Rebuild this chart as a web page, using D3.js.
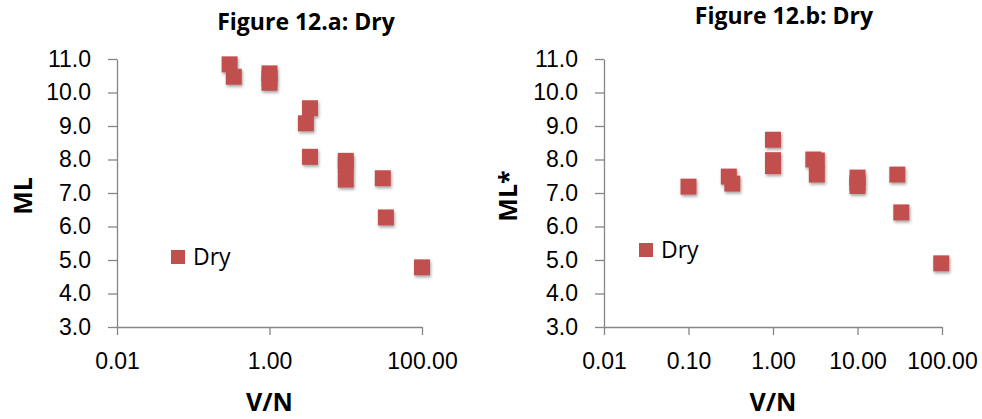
<!DOCTYPE html>
<html>
<head>
<meta charset="utf-8">
<script src="https://cdn.jsdelivr.net/npm/d3@7"></script>
<style>
  body { margin: 0; background: #fff; }
  svg { display: block; font-family: "Open Sans", sans-serif; }
  .axis path, .axis line { stroke: #868686; stroke-width: 1.3px; }
  .axis text { font-size: 23px; fill: #000; }
</style>
</head>
<body>
<svg id="chart" width="982" height="419"></svg>
<script>
// Figure 12.a data (V/N vs ML)
const leftX = [0.30, 0.34, 1.0, 1.0, 1.0, 3.4, 3.0, 3.4, 10, 10, 10, 30.6, 33.6, 100];
const leftY = [10.84, 10.47, 10.57, 10.42, 10.29, 9.53, 9.08, 8.08, 7.96, 7.85, 7.40, 7.44, 6.27, 4.78];
const leftTicks = [0.01, 1, 100];

// Figure 12.b data (V/N vs ML*)
const rightX = [0.10, 0.30, 0.33, 1.0, 1.0, 1.0, 3.0, 3.3, 3.3, 10, 10, 10, 29.6, 33, 98];
const rightY = [7.19, 7.49, 7.28, 8.59, 7.98, 7.80, 8.00, 7.97, 7.55, 7.46, 7.30, 7.21, 7.55, 6.42, 4.90];
const rightTicks = [0.01, 0.1, 1, 10, 100];

const yTicks = [3, 4, 5, 6, 7, 8, 9, 10, 11];
const seriesName = "Dry";
const markerColor = "#C0504D";

const svg = d3.select("#chart");

// soft shadow like the excel markers
const defs = svg.append("defs");
const f = defs.append("filter").attr("id", "shadow")
  .attr("x", "-50%").attr("y", "-50%").attr("width", "200%").attr("height", "200%");
f.append("feDropShadow")
  .attr("dx", 1).attr("dy", 2).attr("stdDeviation", 1.5)
  .attr("flood-color", "#000").attr("flood-opacity", 0.35);

function drawPanel(opt) {
  const g = svg.append("g");

  const x = d3.scaleLog().domain([0.01, 100]).range([opt.left, opt.right]);
  const y = d3.scaleLinear().domain([3, 11]).range([327, 59]);

  g.append("g")
    .attr("class", "axis")
    .attr("transform", `translate(0,${y(3)})`)
    .call(d3.axisBottom(x).tickValues(opt.ticks).tickFormat(d3.format(".2f"))
      .tickSizeInner(8).tickSizeOuter(0).tickPadding(18));

  g.append("g")
    .attr("class", "axis")
    .attr("transform", `translate(${opt.left},0)`)
    .call(d3.axisLeft(y).tickValues(yTicks).tickFormat(d3.format(".1f"))
      .tickSizeInner(9).tickSizeOuter(0).tickPadding(17));

  const pts = opt.xs.map((v, i) => ({ x: v, y: opt.ys[i] }));
  const s = 16;
  g.append("g").attr("filter", "url(#shadow)")
    .selectAll("rect")
    .data(pts)
    .join("rect")
    .attr("x", d => x(d.x) - s / 2)
    .attr("y", d => y(d.y) - s / 2)
    .attr("width", s)
    .attr("height", s)
    .attr("fill", markerColor);

  // title
  g.append("text")
    .attr("x", opt.titleX).attr("y", opt.titleY)
    .attr("text-anchor", "middle")
    .style("font-size", "23px").style("font-weight", "bold")
    .text(opt.title);

  // axis titles
  g.append("text")
    .attr("x", x(1)).attr("y", 411)
    .attr("text-anchor", "middle")
    .style("font-size", "25px").style("font-weight", "bold")
    .text("V/N");

  g.append("text")
    .attr("transform", `translate(${opt.yLabelX},196) rotate(-90)`)
    .attr("text-anchor", "middle")
    .style("font-size", "25px").style("font-weight", "bold")
    .text(opt.yLabel);

  // legend
  const lg = g.append("g").attr("transform", `translate(${opt.legX},${opt.legY})`);
  lg.append("rect").attr("x", -7).attr("y", -7).attr("width", 14).attr("height", 14)
    .attr("fill", markerColor);
  lg.append("text").attr("x", 15).attr("y", 8)
    .style("font-size", "23px")
    .text(seriesName);
}

drawPanel({
  left: 117, right: 422, ticks: leftTicks, xs: leftX, ys: leftY,
  title: "Figure 12.a: Dry", titleX: 306, titleY: 30,
  yLabel: "ML", yLabelX: 32, legX: 178, legY: 257
});

drawPanel({
  left: 604, right: 942, ticks: rightTicks, xs: rightX, ys: rightY,
  title: "Figure 12.b: Dry", titleX: 784, titleY: 24,
  yLabel: "ML*", yLabelX: 517, legX: 646, legY: 250
});
</script>
</body>
</html>
